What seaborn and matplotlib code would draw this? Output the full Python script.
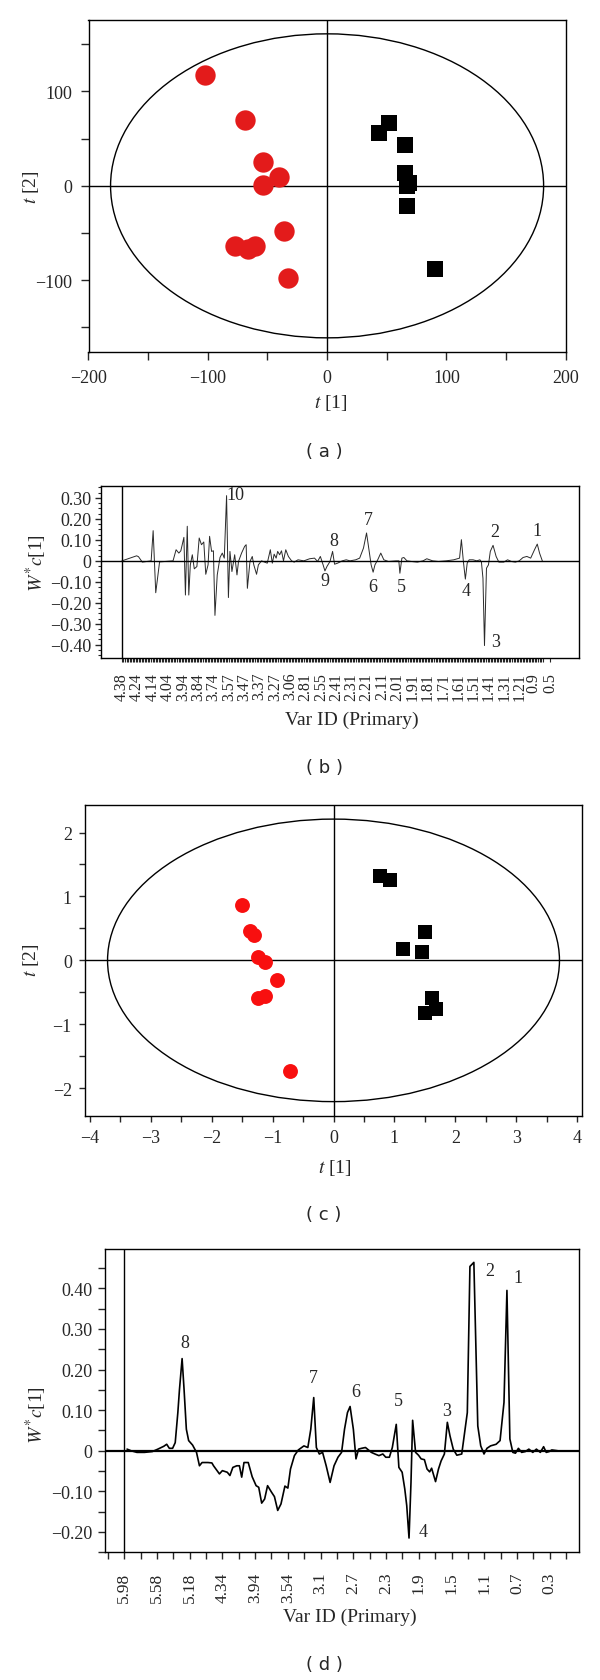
import pandas as pd
import matplotlib
matplotlib.use("Agg")
import matplotlib.pyplot as plt
import seaborn as sns
from matplotlib.patches import Ellipse
from matplotlib.ticker import MultipleLocator, FixedLocator, FuncFormatter

sns.set_style("ticks")
plt.rcParams["font.family"] = ["Liberation Serif", "DejaVu Serif"]
plt.rcParams["mathtext.fontset"] = "stix"

# ---------------- data ----------------

# (a) PCA scores
a_red_t1 = [-102.7, -68.5, -53.7, -40.5, -53.7, -36.4, -77.6, -66.6, -60.2, -33.1]
a_red_t2 = [117.4, 69.4, 25.6, 9.3, 1.1, -48.0, -63.3, -66.9, -63.3, -97.5]
a_blk_t1 = [43.4, 52.1, 65.6, 65.6, 68.5, 66.6, 66.6, 90.4]
a_blk_t2 = [56.2, 66.5, 43.1, 13.9, 2.8, -0.4, -21.0, -87.9]
a_ellipse = (363, 322)

# (b) loadings W*c[1]
b_var = [0, 9.6, 10.8, 13.3, 19.1, 20.4, 22.1, 24.6, 33.4, 35.4, 37.2, 38.5,
         40.5, 41.5, 42.7, 43.7, 44.7, 46.0, 47.3, 49.0, 50.5, 52.0, 53.5, 54.8,
         56.3, 57.3, 58.6, 59.8, 60.8, 62.3, 64.1, 65.6, 66.9, 68.4, 69.6, 70.6,
         71.9, 73.7, 75.2, 76.2, 78.2, 80.2, 81.2, 82.0, 83.7, 85.2, 86.2, 88.0,
         89.2, 91.2, 93.3, 95.0, 97.0, 98.3, 99.5, 100.8, 101.8, 103.1, 104.3,
         105.6, 107.1, 108.8, 110.9, 112.6, 115.1, 118.9, 122.7, 125.9, 127.9,
         129.7, 131.5, 132.7, 134.0, 136.0, 137.7, 139.0, 141.0, 144.0, 146.6,
         149.1, 152.8, 155.4, 157.9, 159.9, 161.6, 162.9, 164.2, 165.4, 167.2,
         169.2, 171.2, 174.2, 179.2, 181.0, 181.7, 183.0, 184.3, 186.3, 189.3,
         193.1, 196.8, 199.3, 203.1, 206.9, 211.9, 216.9, 220.7, 221.9, 223.2,
         224.5, 225.7, 227.0, 229.5, 232.0, 234.0, 235.0, 236.0, 237.0, 238.3,
         239.6, 240.8, 242.6, 244.6, 246.4, 249.6, 252.1, 254.6, 257.2, 259.7,
         262.2, 264.7, 267.2, 269.7, 271.5, 273.0, 274.8]
b_w = [0, 0.024, 0.020, -0.006, 0.0, 0.144, -0.152, -0.005, 0.0, 0.053, 0.037, 0.048,
       0.112, -0.163, 0.165, -0.163, -0.019, 0.029, -0.038, -0.027, 0.109, 0.077, 0.090, -0.064,
       -0.019, 0.117, 0.045, 0.048, -0.260, -0.067, 0.016, 0.037, 0.013, 0.311, -0.175, 0.045,
       -0.051, 0.029, -0.067, -0.003, 0.037, 0.069, 0.077, -0.131, -0.003, 0.021, -0.019, -0.064,
       -0.019, 0.0, -0.006, -0.011, 0.053, -0.011, 0.032, 0.013, 0.045, 0.029, 0.048,
       0.0, 0.053, 0.021, 0.0, -0.006, 0.005, 0.0, 0.010, 0.013, -0.003,
       0.021, -0.019, -0.048, -0.027, -0.003, 0.045, -0.016, -0.011, 0.0, 0.005,
       0.0, 0.005, 0.013, 0.061, 0.133, 0.045, -0.019, -0.054, -0.019, 0.005,
       0.037, 0.005, -0.003, 0.0, 0.0, -0.059, 0.013, 0.016, 0.0, -0.003,
       -0.006, 0.0, 0.010, 0.0, -0.003, 0.0, 0.005, 0.013, 0.101, -0.003,
       -0.087, -0.011, 0.005, 0.005, 0.0, 0.005, -0.006, -0.083, -0.404, -0.035,
       -0.019, 0.045, 0.074, 0.021, -0.006, -0.006, 0.005, -0.003, -0.006, 0.0,
       0.016, 0.021, 0.013, 0.053, 0.080, 0.037, 0.0]
b_tail_var = [284.8, 286.8]
b_tail_w = [0.0, 0.0]
b_tick_pos = [0, 10, 20, 30, 40, 50, 60, 70, 80, 90, 100, 110, 120, 130, 140,
              150, 160, 170, 180, 190, 200, 210, 220, 230, 240, 250, 260, 269, 280]
b_tick_lab = ["4.38", "4.24", "4.14", "4.04", "3.94", "3.84", "3.74", "3.57", "3.47",
              "3.37", "3.27", "3.06", "2.81", "2.55", "2.41", "2.31", "2.21", "2.11",
              "2.01", "1.91", "1.81", "1.71", "1.61", "1.51", "1.41", "1.31", "1.21",
              "0.9", "0.5"]
b_peak_id = ["10", "8", "9", "7", "6", "5", "4", "3", "2", "1"]
b_peak_var = [74.5, 138.5, 132.7, 161, 164, 182.5, 225, 244.6, 244, 271.5]
b_peak_w = [0.317, 0.096, -0.095, 0.197, -0.123, -0.123, -0.143, -0.385, 0.138, 0.144]

# (c) PLS-DA scores
c_red_t1 = [-1.50, -1.37, -1.31, -1.24, -1.12, -0.93, -1.24, -1.12, -0.71]
c_red_t2 = [0.86, 0.465, 0.40, 0.047, -0.03, -0.30, -0.585, -0.56, -1.73]
c_blk_t1 = [0.76, 0.93, 1.50, 1.14, 1.45, 1.62, 1.69, 1.51]
c_blk_t2 = [1.316, 1.26, 0.44, 0.18, 0.13, -0.595, -0.757, -0.825]
c_ellipse = (7.42, 4.42)

# (d) loadings W*c[1]
d_var = [0.9, 2.1, 3.9, 6.2, 8.6, 10.3, 12.1, 13.0, 13.8, 14.8, 15.6, 16.4, 16.9,
         17.7, 18.3, 19.0, 19.7, 20.9, 22.1, 23.0, 23.8, 25.6, 26.8, 27.3, 29.1,
         30.0, 31.5, 32.3, 33.2, 34.4, 35.2, 35.9, 36.6, 37.9, 39.1, 40.3, 41.1,
         42.0, 42.9, 43.8, 45.0, 45.9, 46.9, 47.9, 49.1, 50.0, 50.8, 52.0, 53.2,
         54.9, 56.1, 57.0, 57.9, 58.7, 59.6, 60.6, 61.7, 62.9, 64.1, 65.3, 66.4,
         67.3, 68.2, 69.0, 70.0, 70.8, 71.6, 72.5, 73.7, 74.6, 75.5, 76.6, 77.8,
         79.0, 79.9, 81.0, 81.9, 83.1, 83.9, 84.9, 85.7, 86.3, 87.0, 87.6, 88.1,
         89.0, 89.9, 90.7, 91.7, 92.5, 93.3, 93.9, 95.1, 96.0, 96.8, 97.8, 98.7,
         99.5, 100.5, 101.6, 103.1, 104.8, 105.6, 106.8, 108.0, 108.9, 109.9,
         110.8, 111.9, 113.6, 114.8, 116.0, 116.9, 117.8, 118.7, 119.5, 120.4,
         121.4, 122.5, 123.6, 124.8, 125.9, 127.1, 128.1, 128.9, 129.8, 130.6, 132.4]
d_w = [0.004, 0.0, -0.004, -0.004, -0.002, 0.004, 0.011, 0.016, 0.006, 0.006, 0.020, 0.094, 0.151,
       0.227, 0.151, 0.053, 0.025, 0.014, -0.004, -0.037, -0.029, -0.029, -0.030, -0.037, -0.057,
       -0.049, -0.053, -0.061, -0.041, -0.037, -0.037, -0.065, -0.029, -0.029, -0.064, -0.086, -0.090,
       -0.129, -0.119, -0.086, -0.102, -0.113, -0.147, -0.131, -0.087, -0.092, -0.045, -0.012, 0.002,
       0.012, 0.008, 0.053, 0.131, 0.008, -0.008, -0.004, -0.037, -0.078, -0.037, -0.016, -0.004,
       0.053, 0.094, 0.109, 0.053, -0.020, 0.004, 0.006, 0.008, 0.002, -0.004, -0.008, -0.012,
       -0.008, -0.016, -0.016, 0.008, 0.065, -0.041, -0.053, -0.094, -0.135, -0.215, -0.078, 0.075,
       -0.004, -0.011, -0.020, -0.022, -0.045, -0.052, -0.043, -0.076, -0.045, -0.025, -0.008, 0.070,
       0.037, 0.004, -0.011, -0.008, 0.094, 0.454, 0.464, 0.061, 0.012, -0.008,
       0.006, 0.012, 0.016, 0.025, 0.119, 0.395, 0.029, -0.004, -0.006, 0.006,
       -0.004, -0.002, 0.004, -0.004, 0.004, -0.004, 0.010, -0.004, -0.002, 0.002, 0.0]
d_tick_pos = [0, 10, 20, 30, 40, 50, 60, 70, 80, 90, 100, 110, 120, 130]
d_tick_lab = ["5.98", "5.58", "5.18", "4.34", "3.94", "3.54", "3.1", "2.7", "2.3",
              "1.9", "1.5", "1.1", "0.7", "0.3"]
d_peak_id = ["8", "7", "6", "5", "3", "2", "1", "4"]
d_peak_var = [18.5, 57.9, 70.8, 83.9, 98.6, 111.5, 120.3, 91.3]
d_peak_w = [0.266, 0.180, 0.147, 0.123, 0.098, 0.443, 0.427, -0.200]

RED_A = "#e31b1b"
RED_C = "#f80f0f"
TICK_FS = 13
LAB_FS = 14
PEAK_FS = 13


def fmt_load(v, pos):
    if abs(v) < 1e-9:
        return "0"
    return f"{v:.2f}".replace("-", "\u2212")


def style_box(ax):
    for sp in ax.spines.values():
        sp.set_linewidth(1.0)
        sp.set_color("black")
        sp.set_visible(True)


def score_panel(ax, rt1, rt2, bt1, bt2, ell, s_red, s_blk, red):
    reds = pd.DataFrame({"t1": rt1, "t2": rt2})
    blks = pd.DataFrame({"t1": bt1, "t2": bt2})
    ax.add_patch(Ellipse((0, 0), ell[0], ell[1], fill=False, ec="black", lw=1.0, zorder=1))
    ax.axhline(0, color="black", lw=1.0, zorder=1)
    ax.axvline(0, color="black", lw=1.0, zorder=1)
    sns.scatterplot(data=reds, x="t1", y="t2", ax=ax, marker="o", s=s_red,
                    color=red, linewidth=0, zorder=3)
    sns.scatterplot(data=blks, x="t1", y="t2", ax=ax, marker="s", s=s_blk,
                    color="black", linewidth=0, zorder=3)
    style_box(ax)


def loading_panel(ax, var, w, color, lw):
    df = pd.DataFrame({"var": var, "w": w})
    sns.lineplot(data=df, x="var", y="w", ax=ax, sort=False, estimator=None,
                 color=color, lw=lw)
    ax.axvline(0, color="black", lw=1.0)
    style_box(ax)


fig = plt.figure(figsize=(6, 16.81), dpi=100)

# ---- (a) ----
ax = fig.add_axes([0.1475, 0.790, 0.7953, 0.1977])
score_panel(ax, a_red_t1, a_red_t2, a_blk_t1, a_blk_t2, a_ellipse, 215, 125, RED_A)
ax.set_xlim(-200, 200)
ax.set_ylim(-176, 176)
ax.xaxis.set_major_locator(MultipleLocator(100))
ax.xaxis.set_minor_locator(MultipleLocator(50))
ax.yaxis.set_major_locator(MultipleLocator(100))
ax.yaxis.set_minor_locator(MultipleLocator(50))
ax.tick_params(which="both", direction="out", length=6, width=1.0, labelsize=TICK_FS, pad=6)
ax.set_xlabel("$t$ [1]", fontsize=LAB_FS)
ax.set_ylabel("$t$ [2]", fontsize=LAB_FS)
ax.xaxis.set_label_coords(0.508, -0.150)
ax.xaxis.label.set_va("center")
ax.yaxis.set_label_coords(-0.1205, 0.5)
ax.yaxis.label.set_va("center")

# ---- (b) ----
ax = fig.add_axes([0.1683, 0.6080, 0.7970, 0.1023])
loading_panel(ax, b_var, b_w, "#2a2a2a", 0.7)
sns.lineplot(x=b_tail_var, y=b_tail_w, ax=ax, color="#2a2a2a", lw=0.7)
ax.axhline(0, color="black", lw=1.0)
ax.set_xlim(-13.7, 298.9)
ax.set_ylim(-0.463, 0.357)
ax.set_xticks(b_tick_pos, b_tick_lab, rotation=90)
ax.xaxis.set_minor_locator(FixedLocator(list(range(0, 276))))
ax.yaxis.set_major_locator(MultipleLocator(0.1))
ax.yaxis.set_minor_locator(MultipleLocator(0.025))
ax.yaxis.set_major_formatter(FuncFormatter(fmt_load))
ax.tick_params(axis="x", which="both", direction="out", length=3, width=0.8,
               labelsize=11.5, pad=7)
ax.tick_params(axis="y", which="major", direction="out", length=4, width=1.0,
               labelsize=TICK_FS, pad=3)
ax.tick_params(axis="y", which="minor", direction="out", length=2, width=0.8)
for lab, xv, yv in zip(b_peak_id, b_peak_var, b_peak_w):
    ax.text(xv, yv, lab, ha="center", va="center", fontsize=PEAK_FS)
ax.set_xlabel("Var ID (Primary)", fontsize=LAB_FS)
ax.set_ylabel("$W^{*}c$[1]", fontsize=LAB_FS)
ax.xaxis.set_label_coords(0.525, -0.355)
ax.xaxis.label.set_va("center")
ax.yaxis.set_label_coords(-0.135, 0.558)
ax.yaxis.label.set_va("center")

# ---- (c) ----
ax = fig.add_axes([0.1417, 0.3357, 0.8283, 0.1848])
score_panel(ax, c_red_t1, c_red_t2, c_blk_t1, c_blk_t2, c_ellipse, 115, 88, RED_C)
ax.set_xlim(-4.08, 4.08)
ax.set_ylim(-2.43, 2.43)
ax.xaxis.set_major_locator(MultipleLocator(1))
ax.xaxis.set_minor_locator(MultipleLocator(0.5))
ax.yaxis.set_major_locator(MultipleLocator(1))
ax.yaxis.set_minor_locator(MultipleLocator(0.5))
ax.tick_params(which="both", direction="out", length=4.5, width=1.0, labelsize=TICK_FS, pad=5)
ax.set_xlabel("$t$ [1]", fontsize=LAB_FS)
ax.set_ylabel("$t$ [2]", fontsize=LAB_FS)
ax.xaxis.set_label_coords(0.502, -0.165)
ax.xaxis.label.set_va("center")
ax.yaxis.set_label_coords(-0.1087, 0.504)
ax.yaxis.label.set_va("center")

# ---- (d) ----
ax = fig.add_axes([0.1747, 0.0760, 0.7908, 0.1804])
loading_panel(ax, d_var, d_w, "black", 1.2)
ax.axhline(0, color="black", lw=1.6)
ax.set_xlim(-5.9, 139)
ax.set_ylim(-0.25, 0.497)
ax.set_xticks(d_tick_pos, d_tick_lab, rotation=90)
ax.xaxis.set_minor_locator(MultipleLocator(5))
ax.yaxis.set_major_locator(MultipleLocator(0.1))
ax.yaxis.set_minor_locator(MultipleLocator(0.05))
ax.yaxis.set_major_formatter(FuncFormatter(fmt_load))
ax.tick_params(which="both", direction="out", length=5, width=1.0)
ax.tick_params(axis="x", labelsize=12.5, pad=9)
ax.tick_params(axis="y", labelsize=TICK_FS, pad=4)
for lab, xv, yv in zip(d_peak_id, d_peak_var, d_peak_w):
    ax.text(xv, yv, lab, ha="center", va="center", fontsize=PEAK_FS)
ax.set_xlabel("Var ID (Primary)", fontsize=LAB_FS)
ax.set_ylabel("$W^{*}c$[1]", fontsize=LAB_FS)
ax.xaxis.set_label_coords(0.517, -0.213)
ax.xaxis.label.set_va("center")
ax.yaxis.set_label_coords(-0.144, 0.456)
ax.yaxis.label.set_va("center")

# panel captions
for tag, yy in zip(["a", "b", "c", "d"], [0.7311, 0.5431, 0.2772, 0.0095]):
    fig.text(0.54, yy, f"( {tag} )", ha="center", va="center", fontsize=13,
             family="DejaVu Sans")

fig.savefig("out.png", dpi=100)
